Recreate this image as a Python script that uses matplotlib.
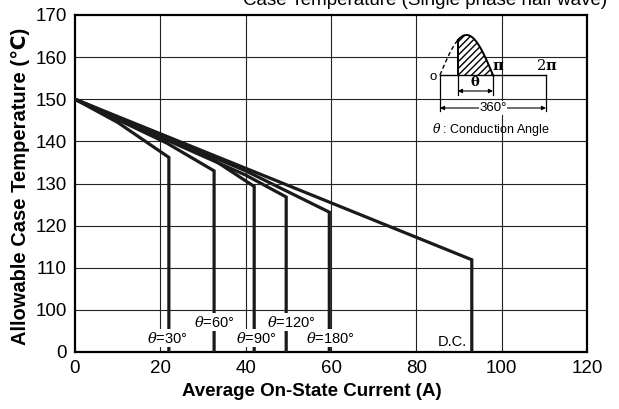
import numpy as np
import matplotlib
matplotlib.use("Agg")
import matplotlib.pyplot as plt

plt.rcParams['font.family'] = ['Liberation Sans', 'DejaVu Sans']
plt.rcParams['mathtext.fontset'] = 'dejavuserif'

# ---- data ----
x_30 = [0, 10, 22.0]
y_30 = [150, 144.5, 136.2]
x_60 = [0, 21.5, 32.6]
y_60 = [150, 139.6, 133.0]
x_90 = [0, 31, 42.0]
y_90 = [150, 136.6, 129.3]
x_120 = [0, 40, 49.5]
y_120 = [150, 132.0, 126.8]
x_180 = [0, 40, 59.6]
y_180 = [150, 133.0, 123.2]
x_dc = [0, 93.0]
y_dc = [150, 111.9]

series = [(x_30, y_30), (x_60, y_60), (x_90, y_90),
          (x_120, y_120), (x_180, y_180), (x_dc, y_dc)]

labels = [r"$\theta$=30°", r"$\theta$=60°", r"$\theta$=90°",
          r"$\theta$=120°", r"$\theta$=180°", "D.C."]
label_x = [21.6, 32.6, 42.4, 50.6, 59.8, 88.4]
label_y = [33, 71, 33, 71, 33, 24]

xticks = [0, 20, 40, 60, 80, 100, 120]
yticks = [0, 100, 110, 120, 130, 140, 150, 160, 170]


# broken y axis: 0..100 compressed into one grid step
def fwd(y):
    y = np.asarray(y, dtype=float)
    return np.where(y >= 100, y, 90 + y * 0.1)


def inv(v):
    v = np.asarray(v, dtype=float)
    return np.where(v >= 100, v, (v - 90) * 10)


fig = plt.figure(figsize=(6.19, 4.09), dpi=100)
ax = fig.add_axes([75 / 619, 1 - 352 / 409, 512 / 619, 337 / 409])
ax.set_yscale('function', functions=(fwd, inv))
ax.set_xlim(0, 120)
ax.set_ylim(0, 170)
ax.set_xticks(xticks)
ax.set_yticks(yticks)
ax.set_xticklabels([str(t) for t in xticks], fontsize=13.5)
ax.set_yticklabels([str(t) for t in yticks], fontsize=13.5)
ax.tick_params(length=0, pad=6)
ax.minorticks_off()

for xv in xticks[1:-1]:
    ax.axvline(xv, color='#222222', lw=0.8, zorder=1)
for yv in yticks[1:-1]:
    ax.axhline(yv, color='#222222', lw=0.8, zorder=1)

for sp in ax.spines.values():
    sp.set_linewidth(1.6)
    sp.set_color('black')

for xs, ys in series:
    xx = list(xs) + [xs[-1]]
    yy = list(ys) + [0]
    ax.plot(xx, yy, color='#1a1a1a', lw=2.3, solid_joinstyle='miter', zorder=3)

for t, lx, ly in zip(labels, label_x, label_y):
    ax.text(lx, ly, t, fontsize=10.5, ha='center', va='center', zorder=4,
            bbox=dict(facecolor='white', edgecolor='none', pad=1.0))

ax.set_xlabel("Average On-State Current (A)", fontsize=13.5, fontweight='bold')
ax.xaxis.set_label_coords(0.463, -0.092)
ax.set_ylabel("Allowable Case Temperature (℃)", fontsize=14.5, fontweight='bold')
ax.yaxis.set_label_coords(-0.088, 0.49)

fig.text(607 / 619, 1 - 5 / 409, "Case Temperature (Single phase half wave)",
         fontsize=13.5, ha='right', va='baseline', fontweight='medium')

# ---- inset waveform sketch ----
ia = fig.add_axes([420 / 619, 1 - 150 / 409, 150 / 619, 133 / 409])
ia.set_xlim(-67.9, 441.6)
ia.set_ylim(-75, 58)
ia.set_facecolor('white')
ia.axis('off')
ia.patch.set_visible(True)
ia.set_zorder(5)

amp = 40
start = 61
ph_d = np.linspace(0, start, 30)
ph_s = np.linspace(start, 180, 60)
ia.plot(ph_d, amp * np.sin(np.radians(ph_d)), color='black', lw=1, ls=(0, (3, 2)))
ia.plot(ph_s, amp * np.sin(np.radians(ph_s)), color='black', lw=1.4)
ia.plot([start, start], [0, amp * np.sin(np.radians(start))], color='black', lw=1.4)
ia.fill_between(ph_s, 0, amp * np.sin(np.radians(ph_s)), facecolor='white',
                edgecolor='black', hatch='/////', lw=0)
ia.plot([0, 360], [0, 0], color='black', lw=1)
ia.plot([0, 0], [0, -36], color='black', lw=0.9)
ia.plot([360, 360], [0, -36], color='black', lw=0.9)
ia.plot([start, start], [0, -20], color='black', lw=0.9)
ia.plot([180, 180], [0, -20], color='black', lw=0.9)
ia.annotate('', xy=(start, -16), xytext=(180, -16),
            arrowprops=dict(arrowstyle='<|-|>', color='black', lw=0.8,
                            mutation_scale=6, shrinkA=0, shrinkB=0))
ia.annotate('', xy=(0, -33), xytext=(360, -33),
            arrowprops=dict(arrowstyle='<|-|>', color='black', lw=0.8,
                            mutation_scale=6, shrinkA=0, shrinkB=0))
ia.text(120, -7, r"$\mathbf{\theta}$", fontsize=9.5, ha='center', va='center')
ia.text(180, -33, "360°", fontsize=9.5, ha='center', va='center',
        bbox=dict(facecolor='white', edgecolor='none', pad=0.5))
ia.text(198, 9, r"$\mathbf{\pi}$", fontsize=10.5, ha='center', va='center')
ia.text(363, 9, r"$2\mathbf{\pi}$", fontsize=10.5, ha='center', va='center')
ia.text(-24, -2, "o", fontsize=9.5, ha='center', va='center')
ia.text(173, -54, r"$\theta$ : Conduction Angle", fontsize=9, ha='center',
        va='center')

fig.savefig("out.png", dpi=100)
